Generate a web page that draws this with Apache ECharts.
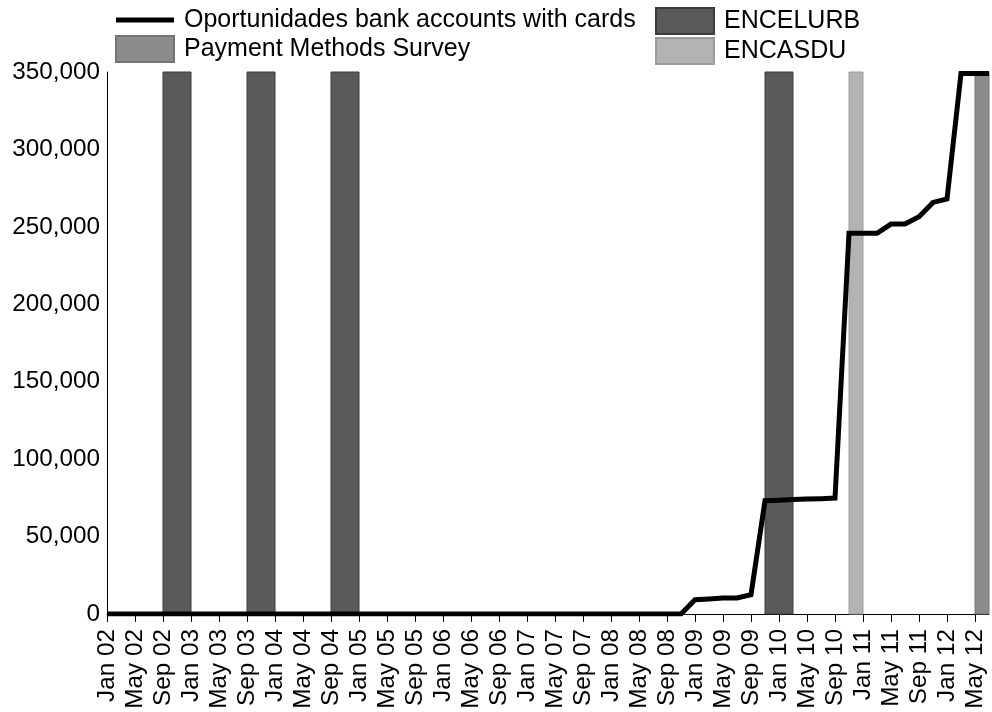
<!DOCTYPE html>
<html>
<head>
<meta charset="utf-8">
<script src="https://cdn.jsdelivr.net/npm/echarts@6/dist/echarts.min.js"></script>
<style>
html,body{margin:0;padding:0;background:#fff;}
#chart{width:992px;height:712px;}
</style>
</head>
<body>
<div id="chart"></div>
<script>
// ---- Data ----
const monthNames = ['Jan','Feb','Mar','Apr','May','Jun','Jul','Aug','Sep','Oct','Nov','Dec'];
const years = ['02','03','04','05','06','07','08','09','10','11','12'];
const lastMonth = 'Jul 12';

const accountDates = ['Jan 02','Nov 08','Jan 09','Mar 09','May 09','Jul 09','Sep 09','Nov 09','Jan 10','Mar 10','May 10','Jul 10','Sep 10','Nov 10','Jan 11','Mar 11','May 11','Jul 11','Sep 11','Nov 11','Jan 12','Mar 12','May 12','Jul 12'];
const accountValues = [0,0,9200,9700,10300,10300,12500,73200,73500,73900,74300,74500,74900,245800,245800,245800,251800,251800,256500,265800,268000,349000,349000,349000];

const encelurbPeriods = [['Sep 02','Jan 03'],['Sep 03','Jan 04'],['Sep 04','Jan 05'],['Nov 09','Mar 10']];
const encasduPeriods = [['Nov 10','Jan 11']];
const pmsPeriods = [['May 12','Jul 12']];

const yTicks = [0,50000,100000,150000,200000,250000,300000,350000];

// ---- Build ----
const months = [];
outer: for (const y of years) {
  for (const m of monthNames) {
    months.push(m + ' ' + y);
    if (m + ' ' + y === lastMonth) break outer;
  }
}
const idx = s => months.indexOf(s);
const yMax = yTicks[yTicks.length - 1];

const FONT = "'Liberation Sans', Arial, Helvetica, sans-serif";

function periodSeries(name, periods, fill, stroke) {
  return {
    name: name,
    type: 'custom',
    z: 2,
    itemStyle: {color: fill, borderColor: stroke, borderWidth: 1},
    encode: {x: [0, 1], y: 2},
    data: periods.map(p => [idx(p[0]), idx(p[1]), yMax]),
    renderItem: function (params, api) {
      const a = api.coord([api.value(0), api.value(2)]);
      const b = api.coord([api.value(1), 0]);
      return {
        type: 'rect',
        shape: {x: a[0], y: a[1], width: b[0] - a[0], height: b[1] - a[1]},
        style: {fill: fill, stroke: stroke, lineWidth: 1}
      };
    }
  };
}

const chart = echarts.init(document.getElementById('chart'), null, {renderer: 'canvas'});
const legendCommon = {
  orient: 'vertical',
  top: 7,
  padding: 0,
  itemWidth: 58,
  itemHeight: 26,
  itemGap: 2,
  textStyle: {fontSize: 25, color: '#000', fontFamily: FONT, padding: [0, 0, 0, 5], lineHeight: 26},
  selectedMode: false
};
chart.setOption({
  animation: false,
  backgroundColor: '#fff',
  textStyle: {fontFamily: FONT},
  legend: [
    Object.assign({}, legendCommon, {
      left: 115,
      data: [
        {name: 'Oportunidades bank accounts with cards', icon: 'path://M0,0H58V5H0Z'},
        {name: 'Payment Methods Survey', icon: 'rect'}
      ]
    }),
    Object.assign({}, legendCommon, {
      left: 655,
      data: [
        {name: 'ENCELURB', icon: 'rect'},
        {name: 'ENCASDU', icon: 'rect'}
      ]
    })
  ],
  grid: {left: 107, right: 3, top: 72, bottom: 98, containLabel: false},
  xAxis: {
    type: 'category',
    data: months,
    boundaryGap: false,
    axisLine: {show: true, lineStyle: {color: '#000', width: 1}},
    axisTick: {show: true, interval: 3, length: 8, lineStyle: {color: '#000'}},
    axisLabel: {interval: 3, rotate: 90, fontSize: 24.3, color: '#000', margin: 15, fontFamily: FONT},
    splitLine: {show: false}
  },
  yAxis: {
    type: 'value',
    min: 0,
    max: yMax,
    interval: 50000,
    axisLine: {show: true, lineStyle: {color: '#000', width: 1}},
    axisTick: {show: false},
    axisLabel: {fontSize: 24.3, color: '#000', margin: 7, fontFamily: FONT,
      formatter: v => v.toLocaleString('en-US')},
    splitLine: {show: false}
  },
  series: [
    periodSeries('ENCELURB', encelurbPeriods, '#5a5a5a', '#3c3c3c'),
    periodSeries('ENCASDU', encasduPeriods, '#b3b3b3', '#9c9c9c'),
    periodSeries('Payment Methods Survey', pmsPeriods, '#8c8c8c', '#747474'),
    {
      name: 'Oportunidades bank accounts with cards',
      type: 'line',
      z: 5,
      symbol: 'none',
      color: '#000',
      itemStyle: {color: '#000'},
      lineStyle: {color: '#000', width: 5, join: 'miter'},
      data: accountDates.map((d, i) => [idx(d), accountValues[i]])
    }
  ]
});
</script>
</body>
</html>
